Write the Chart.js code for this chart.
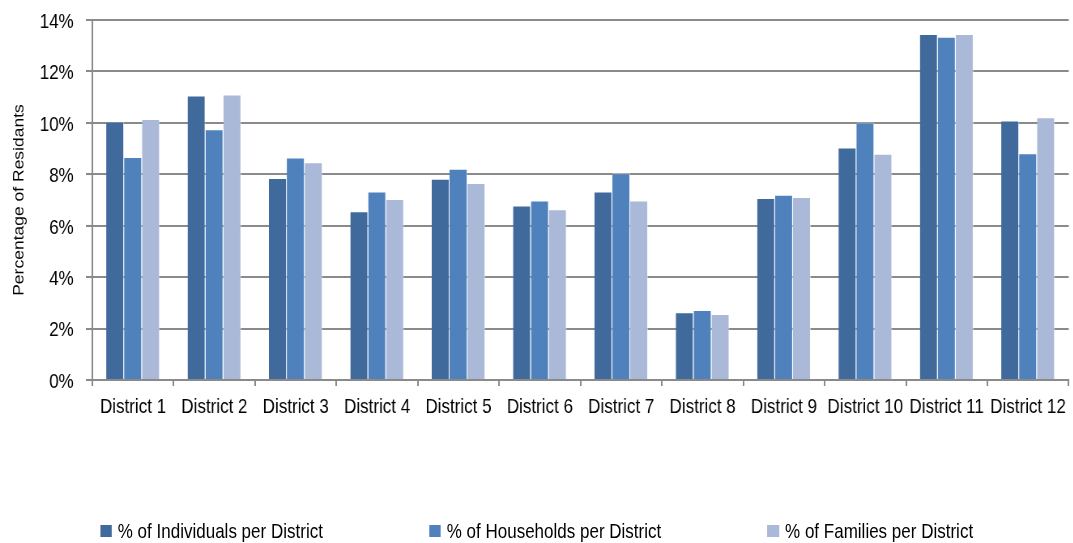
<!DOCTYPE html>
<html>
<head>
<meta charset="utf-8">
<script src="https://cdn.jsdelivr.net/npm/chart.js"></script>
<style>
  html, body { margin: 0; padding: 0; background: #fff; overflow: hidden; }
  /* the source picture is horizontally condensed, so the whole chart is squeezed */
  #wrap { position: relative; width: 1325px; height: 543px; transform: scaleX(0.81); transform-origin: 0 0; }
  canvas { display: block; }
  #legend {
    position: absolute; left: 0; right: 0; top: 519px;
    display: flex; justify-content: center; gap: 131px;
    font-family: 'Liberation Sans', Arial, sans-serif;
    font-size: 21px; color: #000; line-height: 24px;
  }
  .legend-item { display: flex; align-items: center; white-space: nowrap; }
  .legend-swatch { width: 14.8px; height: 12px; margin-right: 7px; }
</style>
</head>
<body>
<div id="wrap">
  <canvas id="chart" width="1325" height="543"></canvas>
  <div id="legend"></div>
</div>
<script>
'use strict';

/* District shares: individuals, households and families per district. */

const districts = ['District 1', 'District 2', 'District 3', 'District 4', 'District 5', 'District 6',
  'District 7', 'District 8', 'District 9', 'District 10', 'District 11', 'District 12'];

const individuals = [10.05, 11.06, 7.86, 6.56, 7.83, 6.79, 7.33, 2.63, 7.08, 9.04, 13.46, 10.09];
const households = [8.67, 9.75, 8.65, 7.33, 8.22, 6.98, 8.04, 2.72, 7.20, 10.01, 13.35, 8.82];
const families = [10.15, 11.10, 8.47, 7.04, 7.66, 6.64, 6.98, 2.57, 7.12, 8.80, 13.46, 10.22];

const seriesNames = ['% of Individuals per District', '% of Households per District', '% of Families per District'];
const seriesColors = ['#416a9c', '#4f81bd', '#aab9d7'];

const FONT = "'Liberation Sans', Arial, sans-serif";
const AXIS = '#8a8a8a';

const ds = [individuals, households, families].map((vals, i) => ({
  label: seriesNames[i],
  data: vals,
  backgroundColor: seriesColors[i],
  borderColor: 'rgba(255, 255, 255, 0.55)',
  borderWidth: { top: 1, right: 1, left: 0, bottom: 0 },
  borderSkipped: 'bottom',
  categoryPercentage: 0.66,
  barPercentage: 1.0,
}));

new Chart(document.getElementById('chart').getContext('2d'), {
  type: 'bar',
  data: { labels: districts, datasets: ds },
  options: {
    responsive: false,
    animation: false,
    layout: { autoPadding: false, padding: { top: 20, right: 3, left: 0, bottom: 0 } },
    scales: {
      x: {
        grid: { display: true, drawOnChartArea: false, drawTicks: true, tickLength: 6, color: AXIS, lineWidth: 2, offset: true },
        border: { display: true, color: AXIS, width: 2 },
        ticks: { color: '#000', font: { family: FONT, size: 21 }, padding: 9, maxRotation: 0, autoSkip: false },
        afterFit: (s) => { s.height = 163; },
      },
      y: {
        min: 0,
        max: 14,
        grid: { color: AXIS, lineWidth: 2, tickLength: 8 },
        border: { display: true, color: AXIS, width: 2 },
        ticks: {
          stepSize: 2,
          color: '#000',
          padding: 15,
          labelOffset: 2,
          // tiny line height keeps the top label from pushing the plot area down
          font: { family: FONT, size: 21, lineHeight: 0.2 },
          callback: (v) => v + '%',
        },
        title: {
          display: true,
          text: 'Percentage of Residants',
          color: '#000',
          font: { family: FONT, size: 17.5 },
          padding: { top: 14, bottom: 0 },
        },
        afterFit: (s) => { s.width = 114; },
      },
    },
    plugins: {
      legend: { display: false },
      tooltip: { enabled: false },
    },
  },
});

// Legend row under the chart.
document.getElementById('legend').innerHTML = seriesNames
  .map((n, i) => `<span class="legend-item"><span class="legend-swatch" style="background:${seriesColors[i]}"></span>${n}</span>`)
  .join('');
</script>
</body>
</html>
